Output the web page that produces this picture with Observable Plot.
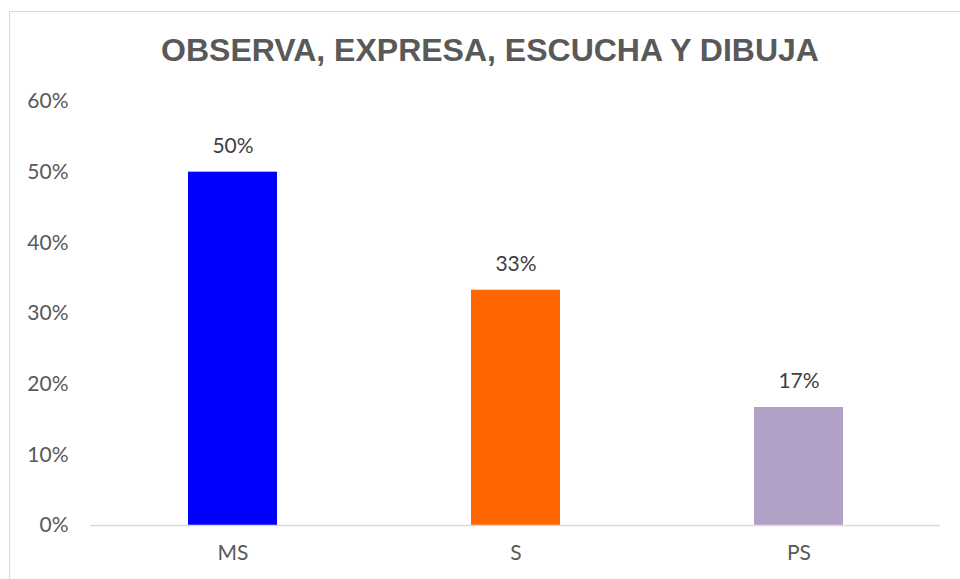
<!DOCTYPE html>
<html>
<head>
<meta charset="utf-8">
<script src="https://cdn.jsdelivr.net/npm/d3@7"></script>
<script src="https://cdn.jsdelivr.net/npm/@observablehq/plot@0.6"></script>
<style>
  html, body { margin: 0; padding: 0; background: #fff; }
  #wrap { position: relative; width: 960px; height: 579px; overflow: hidden; }
  #frame { position: absolute; left: 9px; top: 11px; width: 1000px; height: 700px; border: 1px solid #d9d9d9; box-sizing: border-box; }
  #title { position: absolute; left: 0; width: 980px; top: 32px; text-align: center;
    font-family: "Liberation Sans", Arial, sans-serif; font-weight: bold; font-size: 32px; line-height: 37px; color: #595959; }
  #chart { position: absolute; left: 0; top: 0; }
</style>
</head>
<body>
<div id="wrap">
  <div id="frame"></div>
  <div id="chart"></div>
  <div id="title">OBSERVA, EXPRESA, ESCUCHA Y DIBUJA</div>
</div>
<script>
const categories = ["MS", "S", "PS"];
const values = [0.5, 0.333, 0.167];
const labels = ["50%", "33%", "17%"];
const colors = ["#0000ff", "#ff6600", "#b2a1c7"];
const yTicks = [0, 0.1, 0.2, 0.3, 0.4, 0.5, 0.6];

const data = categories.map((c, i) => ({cat: c, value: values[i], label: labels[i], color: colors[i]}));

const chart = Plot.plot({
  width: 960,
  height: 579,
  marginTop: 101,
  marginBottom: 54,
  marginLeft: 90,
  marginRight: 20,
  style: {fontFamily: "Lato, 'Open Sans', sans-serif", fontSize: "21px", color: "#595959", background: "transparent"},
  x: {domain: categories, paddingInner: 0.686, paddingOuter: 0.343, label: null, tickSize: 0, tickPadding: 20},
  y: {domain: [0, 0.6], ticks: yTicks, tickFormat: d3.format(".0%"), label: null, tickSize: 0, tickPadding: 22},
  marks: [
    Plot.barY(data, {x: "cat", y: "value", fill: "color"}),
    Plot.ruleY([0], {stroke: "#d9d9d9", strokeWidth: 1.5}),
    Plot.text(data, {x: "cat", y: "value", text: "label", dy: -26, fill: "#404040", fontSize: 21})
  ]
});
document.getElementById("chart").appendChild(chart);
</script>
</body>
</html>
